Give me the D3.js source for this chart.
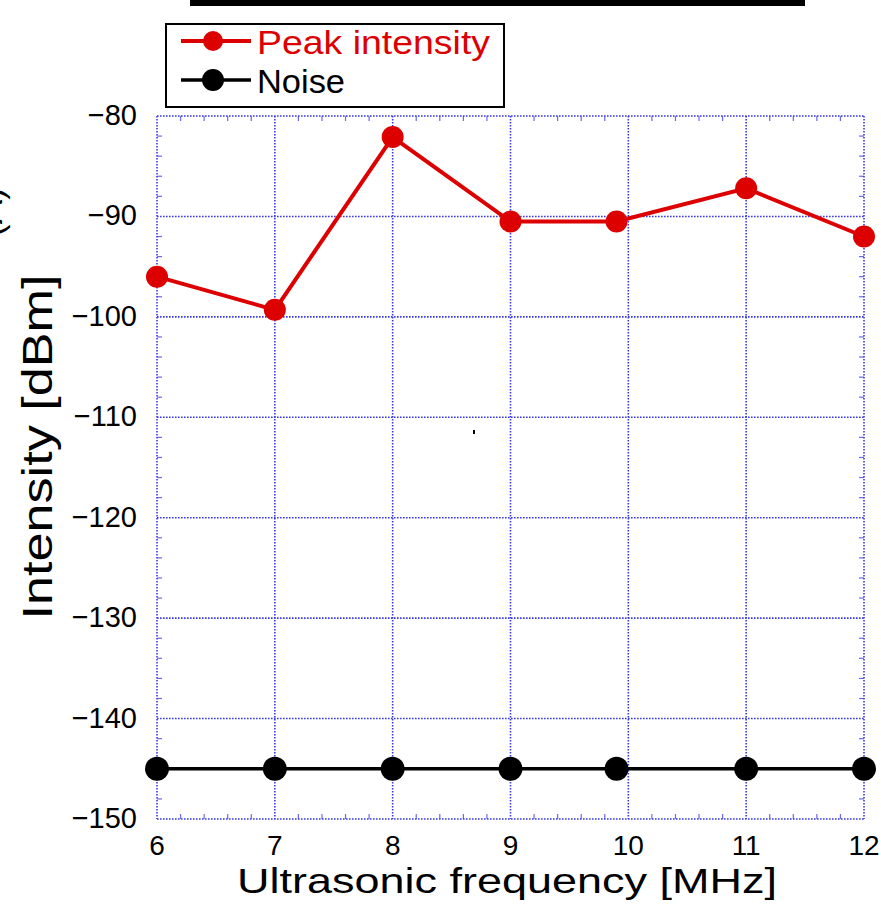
<!DOCTYPE html>
<html>
<head>
<meta charset="utf-8">
<script src="https://cdn.jsdelivr.net/npm/d3@7"></script>
<style>
  body { margin: 0; background: #fff; }
  text { font-family: "Liberation Sans", Arial, sans-serif; }
</style>
</head>
<body>
<svg id="chart" width="881" height="906"></svg>
<script>
const freq = [6, 7, 8, 9, 9.9, 11, 12];
const peak = [-96.0, -99.3, -82.1, -90.5, -90.5, -87.2, -92.0];
const noise = [-145, -145, -145, -145, -145, -145, -145];
const xTicks = [6, 7, 8, 9, 10, 11, 12];
const yTicks = [-80, -90, -100, -110, -120, -130, -140, -150];

const svg = d3.select("#chart"),
    margin = {top: 116, right: 17, bottom: 87, left: 157},
    width = 881 - margin.left - margin.right,
    height = 906 - margin.top - margin.bottom;

const x = d3.scaleLinear().domain([6, 12]).range([0, width]);
const y = d3.scaleLinear().domain([-150, -80]).range([height, 0]);

const g = svg.append("g")
    .attr("transform", "translate(" + margin.left + "," + margin.top + ")");

const gridColor = "#3a3ae0";

// minor ticks (inward, all four sides)
const xMinor = d3.range(6, 12.001, 0.2).filter(v => Math.abs(v - Math.round(v)) > 0.01);
const yMinor = d3.range(-150, -79.999, 2).filter(v => v % 10 !== 0);
const minor = g.append("g").attr("stroke", "#6a6aee").attr("stroke-width", 1.2);
xMinor.forEach(v => {
    minor.append("line").attr("x1", x(v)).attr("x2", x(v)).attr("y1", height).attr("y2", height - 5);
    minor.append("line").attr("x1", x(v)).attr("x2", x(v)).attr("y1", 0).attr("y2", 5);
});
yMinor.forEach(v => {
    minor.append("line").attr("x1", 0).attr("x2", 5).attr("y1", y(v)).attr("y2", y(v));
    minor.append("line").attr("x1", width).attr("x2", width - 5).attr("y1", y(v)).attr("y2", y(v));
});

// dotted grid
g.append("g").selectAll("line.gx")
    .data(xTicks)
    .enter().append("line")
    .attr("x1", d => x(d)).attr("x2", d => x(d))
    .attr("y1", 0).attr("y2", height)
    .attr("stroke", gridColor).attr("stroke-width", 1.6)
    .attr("stroke-dasharray", "1.6,1.4");
g.append("g").selectAll("line.gy")
    .data(yTicks)
    .enter().append("line")
    .attr("x1", 0).attr("x2", width)
    .attr("y1", d => y(d)).attr("y2", d => y(d))
    .attr("stroke", gridColor).attr("stroke-width", 1.6)
    .attr("stroke-dasharray", "1.6,1.4");

// tick labels
g.append("g").selectAll("text")
    .data(xTicks)
    .enter().append("text")
    .attr("x", d => x(d)).attr("y", height + 36)
    .attr("text-anchor", "middle")
    .attr("font-size", 28)
    .text(d => d);
g.append("g").selectAll("text")
    .data(yTicks)
    .enter().append("text")
    .attr("x", -20).attr("y", d => y(d) + 9)
    .attr("text-anchor", "end")
    .attr("font-size", 29)
    .text(d => "\u2212" + Math.abs(d));

// series
const line = d3.line().x(d => x(d[0])).y(d => y(d[1]));
const series = [
    {name: "Peak intensity", values: peak, color: "#dd0000", lw: 4, r: 11, tl: 233},
    {name: "Noise", values: noise, color: "#000000", lw: 3.5, r: 12, tl: 88}
];
series.forEach(s => {
    const pts = freq.map((f, i) => [f, s.values[i]]);
    g.append("path").datum(pts)
        .attr("d", line)
        .attr("fill", "none")
        .attr("stroke", s.color)
        .attr("stroke-width", s.lw);
    g.selectAll(null).data(pts)
        .enter().append("circle")
        .attr("cx", d => x(d[0]))
        .attr("cy", d => y(d[1]))
        .attr("r", s.r)
        .attr("fill", s.color);
});

// stray speck
g.append("rect").attr("x", 316).attr("y", 314).attr("width", 2).attr("height", 4).attr("fill", "#000");

// axis titles
svg.append("text")
    .attr("x", 507).attr("y", 893)
    .attr("text-anchor", "middle")
    .attr("font-size", 35)
    .attr("textLength", 540).attr("lengthAdjust", "spacingAndGlyphs")
    .text("Ultrasonic frequency [MHz]");
svg.append("text")
    .attr("transform", "translate(52,447) rotate(-90)")
    .attr("text-anchor", "middle")
    .attr("font-size", 42)
    .attr("textLength", 345).attr("lengthAdjust", "spacingAndGlyphs")
    .text("Intensity [dBm]");
// clipped label at left edge
svg.append("text")
    .attr("transform", "translate(2,212) rotate(-90)")
    .attr("text-anchor", "middle")
    .attr("font-size", 37)
    .text("(A)");

// top bar
svg.append("rect").attr("x", 190).attr("y", 0).attr("width", 615).attr("height", 6).attr("fill", "#000");

// legend
const lg = svg.append("g").attr("transform", "translate(166,24)");
lg.append("rect").attr("width", 338).attr("height", 83)
    .attr("fill", "#fff").attr("stroke", "#000").attr("stroke-width", 2);
series.forEach((s, i) => {
    const yy = 17 + i * 39;
    lg.append("line").attr("x1", 15).attr("x2", 85).attr("y1", yy).attr("y2", yy)
        .attr("stroke", s.color).attr("stroke-width", s.lw);
    lg.append("circle").attr("cx", 47).attr("cy", yy).attr("r", s.r - 1).attr("fill", s.color);
    lg.append("text").attr("x", 91).attr("y", yy + 13)
        .attr("font-size", 34).attr("fill", s.color)
        .attr("textLength", s.tl).attr("lengthAdjust", "spacingAndGlyphs")
        .text(s.name);
});
</script>
</body>
</html>
